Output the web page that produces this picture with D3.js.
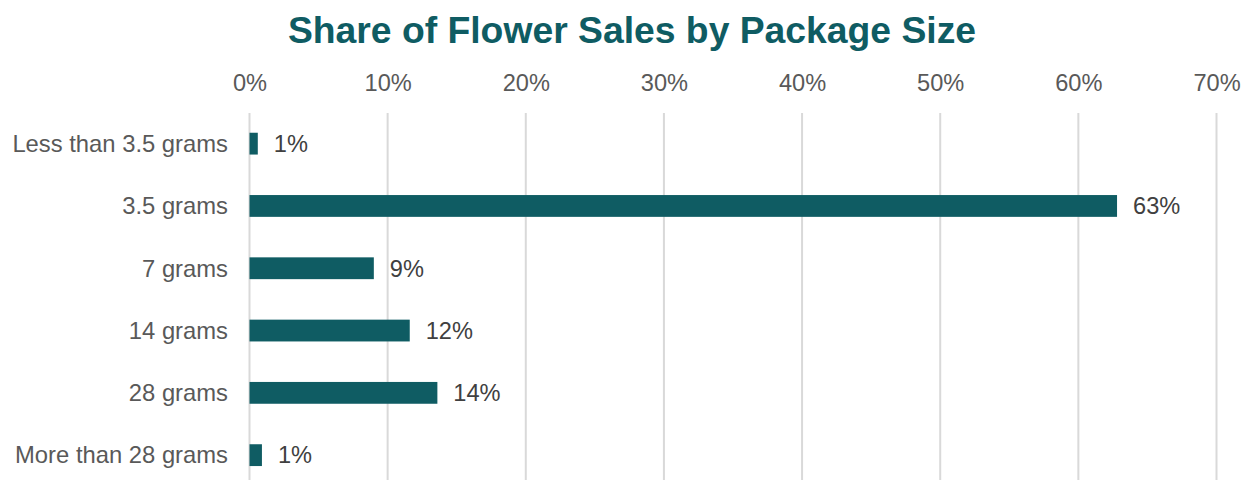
<!DOCTYPE html>
<html>
<head>
<meta charset="utf-8">
<script src="https://cdn.jsdelivr.net/npm/d3@7"></script>
<style>
  html, body { margin: 0; padding: 0; background: #fff; }
  svg { display: block; font-family: Arial, "Liberation Sans", sans-serif; }
</style>
</head>
<body>
<svg id="chart" width="1252" height="480"></svg>
<script>
const categories = ["Less than 3.5 grams", "3.5 grams", "7 grams", "14 grams", "28 grams", "More than 28 grams"];
const values = [0.6, 62.8, 9.0, 11.6, 13.6, 0.9];
const tickValues = [0, 10, 20, 30, 40, 50, 60, 70];
const title = "Share of Flower Sales by Package Size";

const svg = d3.select("#chart");
const W = 1252, H = 480;
const teal = "#0F5C63";

const x = d3.scaleLinear().domain([0, 70]).range([249.5, 1216.5]);
const y = d3.scaleBand().domain(categories).range([112.5, 486.3]).paddingInner(0.65).paddingOuter(0.325);

svg.append("text")
  .attr("x", 632).attr("y", 43)
  .attr("text-anchor", "middle")
  .attr("fill", teal)
  .attr("font-weight", "bold")
  .attr("font-size", "37.3px")
  .text(title);

// gridlines
svg.append("g").selectAll("line").data(tickValues).join("line")
  .attr("x1", d => x(d)).attr("x2", d => x(d))
  .attr("y1", 113).attr("y2", H)
  .attr("stroke", "#d9d9d9").attr("stroke-width", 2);

// top axis labels
const xAxis = d3.axisTop(x).tickValues(tickValues).tickFormat(d => d + "%").tickSize(0);
const gx = svg.append("g").attr("transform", "translate(0,91)").call(xAxis);
gx.select(".domain").remove();
gx.selectAll("text").attr("font-size", "23.6px").attr("fill", "#595959")
  .attr("font-family", "Arial, 'Liberation Sans', sans-serif").attr("dy", 0).attr("y", 0);

// left axis labels
const yAxis = d3.axisLeft(y).tickSize(0).tickPadding(0);
const gy = svg.append("g").attr("transform", "translate(228,0)").call(yAxis);
gy.select(".domain").remove();
gy.selectAll("text").attr("font-size", "23.8px").attr("fill", "#595959")
  .attr("font-family", "Arial, 'Liberation Sans', sans-serif").attr("x", 0).attr("dy", "0.35em");

// bars
svg.append("g").selectAll("rect").data(categories).join("rect")
  .attr("x", x(0))
  .attr("y", d => y(d))
  .attr("width", (d, i) => x(values[i]) - x(0))
  .attr("height", y.bandwidth())
  .attr("fill", teal);

// value labels
svg.append("g").selectAll("text").data(categories).join("text")
  .attr("x", (d, i) => x(values[i]) + 16)
  .attr("y", d => y(d) + y.bandwidth() / 2)
  .attr("dy", "0.35em")
  .attr("font-size", "23.6px")
  .attr("fill", "#404040")
  .text((d, i) => Math.round(values[i]) + "%");
</script>
</body>
</html>
